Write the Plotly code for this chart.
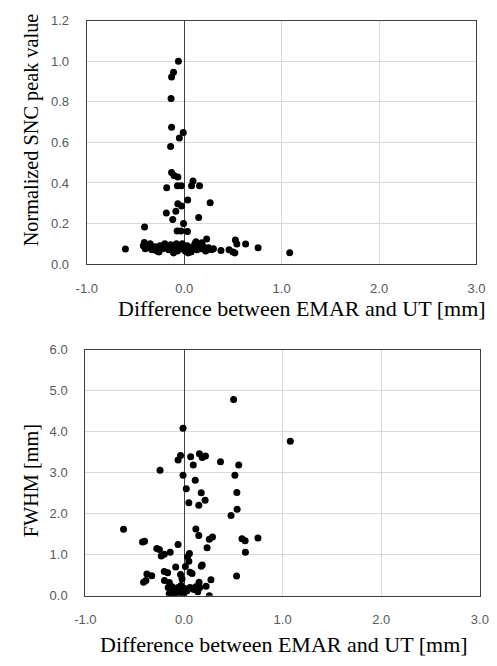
import plotly.graph_objects as go

# ---- data: top chart (Normalized SNC peak value) ----
top_x = [-0.06, -0.11, -0.13, -0.135, -0.13, -0.01, -0.05, -0.14, -0.13, -0.105, -0.066, 0.09,
         -0.18, -0.07, -0.03, 0.075, 0.157, 0.035, 0.266, -0.066, -0.027, -0.086, -0.184, 0.148,
         -0.118, -0.007, -0.407, -0.073, -0.033, 0.033, 0.23, -0.41, 0.525, 0.54, 0.63, -0.604,
         0.758, 0.377, 0.46, 0.5, 0.52, 1.083,
         -0.42, -0.4, -0.37, -0.33, -0.3, -0.28, -0.25, -0.22, -0.2, -0.18, -0.16, -0.14, -0.12,
         -0.1, -0.08, -0.07, -0.05, -0.03, -0.02, 0.0, 0.01, 0.03, 0.05, 0.07, 0.09, 0.11, 0.13,
         0.15, 0.17, 0.2, 0.22, 0.25, 0.28, -0.26, -0.11, 0.04, 0.12, -0.35, 0.18, 0.3]
top_y = [1.00, 0.946, 0.922, 0.816, 0.675, 0.649, 0.622, 0.58, 0.452, 0.437, 0.429, 0.41,
         0.376, 0.386, 0.386, 0.386, 0.386, 0.316, 0.302, 0.297, 0.286, 0.26, 0.252, 0.229,
         0.22, 0.2, 0.183, 0.163, 0.163, 0.16, 0.124, 0.106, 0.119, 0.099, 0.099, 0.074,
         0.08, 0.067, 0.07, 0.06, 0.055, 0.056,
         0.09, 0.075, 0.08, 0.07, 0.085, 0.065, 0.09, 0.075, 0.1, 0.08, 0.07, 0.095, 0.085,
         0.075, 0.1, 0.065, 0.09, 0.075, 0.1, 0.08, 0.065, 0.09, 0.075, 0.06, 0.085, 0.1, 0.07,
         0.09, 0.075, 0.085, 0.065, 0.08, 0.07, 0.06, 0.055, 0.055, 0.11, 0.1, 0.105, 0.075]

# ---- data: bottom chart (FWHM) ----
bot_x = [0.503, -0.01, -0.035, -0.06, 0.068, 0.156, 0.185, 0.218, 0.094, 0.37, 0.555, -0.243,
         -0.01, 0.516, 1.078, 0.114, 0.023, 0.175, 0.536, 0.214, 0.049, 0.15, 0.539, 0.477,
         -0.613, 0.12, 0.15, 0.257, 0.289, 0.234, 0.588, 0.62, 0.75, 0.623, -0.42, -0.40,
         -0.06, -0.276, -0.25, -0.14, -0.2, -0.23, 0.055, 0.036, 0.049, -0.084, 0.014, 0.185,
         0.175, -0.2, -0.166, 0.062, 0.082, -0.035, -0.02, -0.376, -0.327, -0.41, -0.386,
         -0.198, -0.149, 0.153, 0.273, 0.533, 0.224, 0.257,
         -0.16, -0.12, -0.1, -0.08, -0.06, -0.04, -0.02, 0.0, 0.03, 0.06, 0.1, 0.14, 0.16,
         -0.15, -0.13, -0.1, -0.09, 0.0, -0.05, -0.11, 0.08, -0.03, 0.12]
bot_y = [4.79, 4.085, 3.42, 3.31, 3.39, 3.465, 3.37, 3.41, 3.19, 3.27, 3.19, 3.06,
         2.94, 2.94, 3.77, 2.82, 2.61, 2.51, 2.52, 2.33, 2.27, 2.21, 2.11, 1.96,
         1.62, 1.63, 1.47, 1.38, 1.43, 1.17, 1.39, 1.34, 1.41, 1.06, 1.31, 1.33,
         1.25, 1.15, 1.13, 1.06, 1.01, 0.97, 1.03, 0.95, 0.84, 0.70, 0.715, 0.75,
         0.72, 0.59, 0.56, 0.57, 0.54, 0.52, 0.41, 0.53, 0.49, 0.33, 0.37,
         0.37, 0.32, 0.33, 0.39, 0.48, 0.23, 0.0,
         0.2, 0.22, 0.15, 0.1, 0.2, 0.05, 0.1, 0.18, 0.12, 0.2, 0.15, 0.1, 0.2,
         0.05, 0.0, 0.02, 0.08, 0.05, 0.12, 0.18, 0.18, 0.25, 0.22]

x_ticks = [-1.0, 0.0, 1.0, 2.0, 3.0]
top_y_ticks = [0.0, 0.2, 0.4, 0.6, 0.8, 1.0, 1.2]
bot_y_ticks = [0.0, 1.0, 2.0, 3.0, 4.0, 5.0, 6.0]
x_title = "Difference between EMAR and UT [mm]"
top_y_title = "Normalized SNC peak value"
bot_y_title = "FWHM [mm]"

W, H = 497, 666
TICKFONT = dict(family="Liberation Sans, Arial, sans-serif", size=13, color="#595959")
XTITLEFONT = dict(family="Liberation Serif, Times New Roman, serif", size=22, color="#000000")
YTITLEFONT = dict(family="Liberation Serif, Times New Roman, serif", size=20.3, color="#000000")

fig = go.Figure()
marker = dict(color="black", size=7)
fig.add_trace(go.Scatter(x=top_x, y=top_y, mode="markers", marker=marker,
                         xaxis="x", yaxis="y", showlegend=False))
fig.add_trace(go.Scatter(x=bot_x, y=bot_y, mode="markers", marker=marker,
                         xaxis="x2", yaxis="y2", showlegend=False))

def px_dom(a, b, total):
    return [a / total, b / total]

def py_dom(top, bottom):
    return [1 - bottom / H, 1 - top / H]

common_x = dict(range=[-1, 3], tickvals=x_ticks, ticktext=[f"{v:.1f}" for v in x_ticks],
                showgrid=True, gridcolor="#d9d9d9", gridwidth=1,
                zeroline=True, zerolinecolor="#404040", zerolinewidth=1.3,
                showline=True, linecolor="#404040", linewidth=1.3, mirror=True,
                tickfont=TICKFONT, ticks="", ticklabelstandoff=12)

layout = dict(
    width=W, height=H, margin=dict(l=0, r=0, t=0, b=0),
    paper_bgcolor="white", plot_bgcolor="white",
    xaxis=dict(domain=px_dom(79, 485, W), anchor="y", **common_x),
    yaxis=dict(domain=py_dom(14, 263), anchor="x", range=[0, 1.2], tickvals=top_y_ticks,
               ticktext=[f"{v:.1f}" for v in top_y_ticks],
               showgrid=True, gridcolor="#d9d9d9", gridwidth=1, zeroline=False,
               showline=True, linecolor="#404040", linewidth=1.3, mirror=True,
               tickfont=TICKFONT, ticks="", ticklabelstandoff=14),
    xaxis2=dict(domain=px_dom(77.5, 488.5, W), anchor="y2", **common_x),
    yaxis2=dict(domain=py_dom(350.7, 602.3), anchor="x2", range=[0, 6], tickvals=bot_y_ticks,
                ticktext=[f"{v:.1f}" for v in bot_y_ticks],
                showgrid=True, gridcolor="#d9d9d9", gridwidth=1, zeroline=False,
                showline=True, linecolor="#404040", linewidth=1.3, mirror=True,
                tickfont=TICKFONT, ticks="", ticklabelstandoff=14),
)
fig.update_layout(**layout)

annotations = [
    dict(text=x_title, x=303 / W, y=1 - 308 / H, xref="paper", yref="paper",
         showarrow=False, font=XTITLEFONT, xanchor="center", yanchor="middle"),
    dict(text=x_title, x=284.5 / W, y=1 - 652 / H, xref="paper", yref="paper",
         showarrow=False, font=XTITLEFONT, xanchor="center", yanchor="middle"),
    dict(text=top_y_title, x=21 / W, y=1 - 126 / H, xref="paper", yref="paper",
         showarrow=False, font=YTITLEFONT, textangle=-90, xanchor="center", yanchor="middle"),
    dict(text=bot_y_title, x=21 / W, y=1 - 485 / H, xref="paper", yref="paper",
         showarrow=False, font=YTITLEFONT, textangle=-90, xanchor="center", yanchor="middle"),
]
fig.update_layout(annotations=annotations)

fig.write_html("out.html")
